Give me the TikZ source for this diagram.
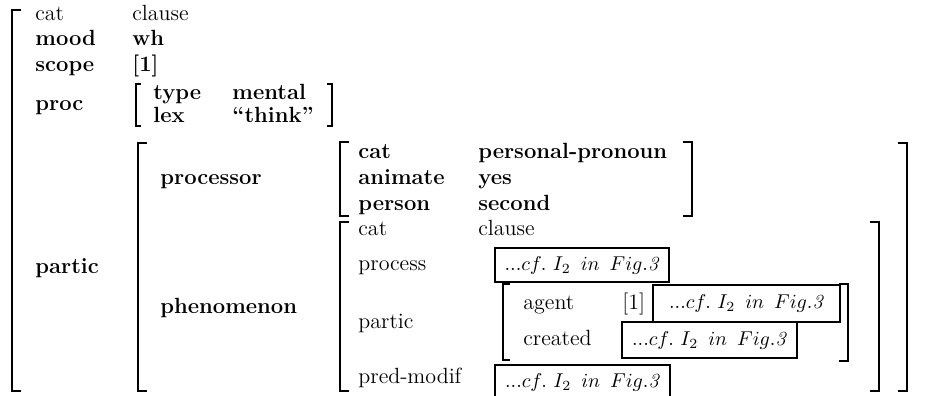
\documentclass[tikz,border=0pt]{standalone}
\tikzset{
  avmfont/.style={font=\fontsize{11}{13}\selectfont\bfseries},
  lbl/.style={anchor=west, inner sep=0pt, text height=7.5pt, text depth=2pt, avmfont},
  plain/.style={lbl, font=\fontsize{11}{13}\selectfont\mdseries},
  brk/.style={line width=1.2pt, line join=miter},
  cfbox/.style={draw, line width=1.4pt, inner sep=0pt, minimum height=17pt,
    font=\fontsize{10}{12}\selectfont}
}
% left and right square brackets: x, top, bottom, tick length
\newcommand\AVMopen[4]{\draw[brk] (#1+#4,#2) -- (#1,#2) -- (#1,#3) -- (#1+#4,#3);}
\newcommand\AVMclose[4]{\draw[brk] (#1-#4,#2) -- (#1,#2) -- (#1,#3) -- (#1-#4,#3);}
\newcommand\cfref{$...cf.\ I_2\ \,in\ \,Fig.$\textit{3}}
\begin{document}
\begin{tikzpicture}[x=0.5pt,y=-0.5pt]
\clip (0,0) rectangle (933,396);
\fill[white] (0,0) rectangle (933,396);

% top-level feature structure
\AVMopen{12}{10}{391}{9}
\node[plain] (cat) at (35,15) {cat};
\node[plain] (clause) at (132,15) {clause};
\node[lbl] (mood) at (35,40) {mood};
\node[lbl] (wh) at (132,40) {wh};
\node[lbl] (scope) at (35,66) {scope};
\node[lbl] (scopeval) at (132,66) {[1]};

% proc
\node[lbl] (proc) at (35,105) {proc};
\AVMopen{136}{84}{126}{5}
\node[lbl] (type) at (153,94) {type};
\node[lbl] (mental) at (232,94) {mental};
\node[lbl] (lex) at (153,117) {lex};
\node[lbl] (think) at (232,117) {``think''};
\AVMclose{332}{84}{126}{5}

% partic
\node[lbl] (partic) at (35,268) {partic};
\AVMopen{138}{143}{391}{9}
\AVMclose{907}{143}{391}{9}

% processor
\node[lbl] (processor) at (160,179) {processor};
\AVMopen{340}{142}{216}{9}
\node[lbl] (pcat) at (358,153) {cat};
\node[lbl] (animate) at (358,179) {animate};
\node[lbl] (person) at (358,205) {person};
\node[lbl] (pronoun) at (478,153) {personal-pronoun};
\node[lbl] (yes) at (478,179) {yes};
\node[lbl] (second) at (478,205) {second};
\AVMclose{692}{142}{216}{9}

% phenomenon
\node[lbl] (phenomenon) at (160,308) {phenomenon};
\AVMopen{340}{222}{391}{9}
\AVMclose{879}{222}{391}{9}
\node[plain] (ncat) at (358,230) {cat};
\node[plain] (nclause) at (478,230) {clause};
\node[plain] (process) at (358,265) {process};
\node[cfbox, minimum width=87pt] (processref) at (582,265) {\cfref};
\node[plain] (npartic) at (358,323) {partic};
\node[plain] (predmodif) at (358,378) {pred-modif};
\node[cfbox, minimum width=87.5pt] (predref) at (582.5,382) {\cfref};

% embedded partic
\AVMopen{503}{284}{360}{7}
\AVMclose{848}{284}{361}{9}
\node[plain] (agent) at (523,304) {agent};
\node[plain] (agentval) at (622,304) {[1]};
\node[cfbox, minimum width=93.5pt, minimum height=18.5pt] (agentref) at (746.5,303.5) {\cfref};
\node[plain] (created) at (523,340) {created};
\node[cfbox, minimum width=87.5pt, minimum height=18pt] (createdref) at (709.5,340) {\cfref};
\end{tikzpicture}
\end{document}
